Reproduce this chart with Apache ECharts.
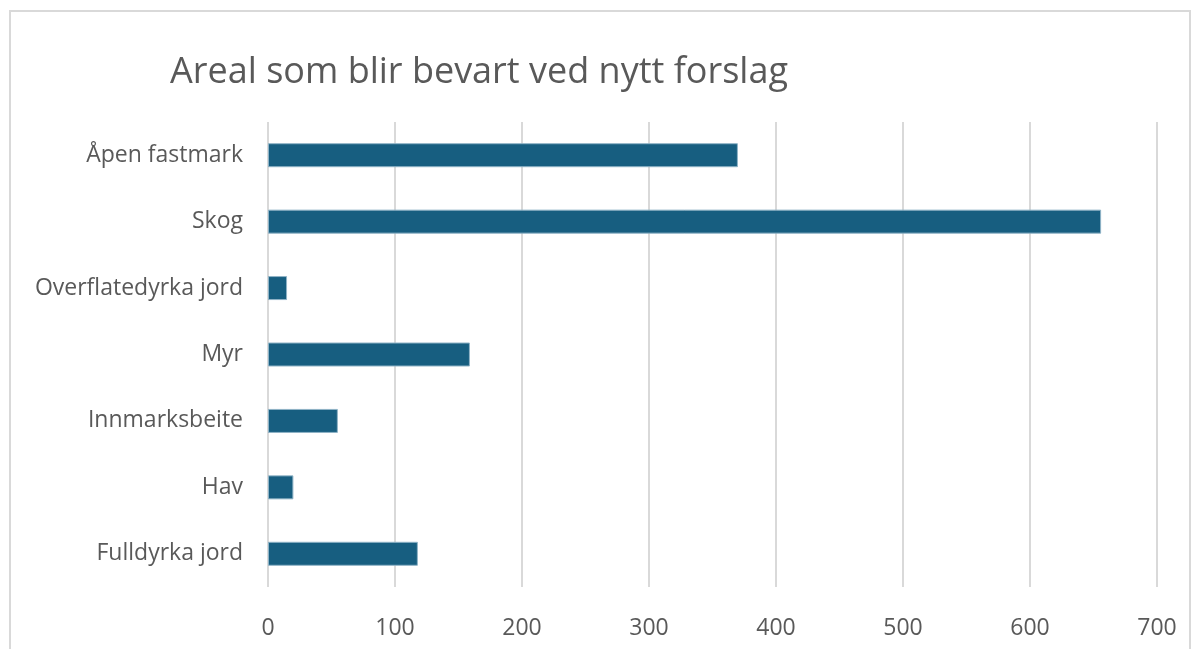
<!DOCTYPE html>
<html>
<head>
<meta charset="utf-8">
<script src="https://cdn.jsdelivr.net/npm/echarts@6/dist/echarts.min.js"></script>
<style>
  html, body { margin: 0; padding: 0; background: #fff; }
  #chart { width: 1198px; height: 649px; }
</style>
</head>
<body>
<div id="chart"></div>
<script>
// categories listed bottom to top (category axis is drawn bottom-up)
const categories = ['Fulldyrka jord', 'Hav', 'Innmarksbeite', 'Myr', 'Overflatedyrka jord', 'Skog', 'Åpen fastmark'];
const values = [118, 20, 55, 159, 15, 656, 370];
const xTicks = { min: 0, max: 700, interval: 100 };

const chart = echarts.init(document.getElementById('chart'));

const option = {
  backgroundColor: '#fff',
  animation: false,
  graphic: [{
    type: 'rect',
    shape: { x: 10, y: 11, width: 1180, height: 660 },
    style: { fill: 'none', stroke: '#d9d9d9', lineWidth: 2 },
    silent: true
  }],
  title: {
    text: 'Areal som blir bevart ved nytt forslag',
    left: 165,
    top: 50,
    textStyle: {
      color: '#595959',
      fontSize: 36,
      fontWeight: 'normal',
      fontFamily: 'Open Sans, sans-serif'
    }
  },
  grid: {
    left: 268,
    right: 41,
    top: 122,
    bottom: 62,
    containLabel: false
  },
  xAxis: {
    type: 'value',
    min: xTicks.min,
    max: xTicks.max,
    interval: xTicks.interval,
    axisLine: { show: false },
    axisTick: { show: false },
    axisLabel: {
      color: '#595959',
      fontSize: 23,
      margin: 30,
      fontFamily: 'Open Sans, sans-serif'
    },
    splitLine: { lineStyle: { color: '#d9d9d9', width: 2 } }
  },
  yAxis: {
    type: 'category',
    data: categories,
    axisLine: { show: false },
    axisTick: { show: false },
    axisLabel: {
      color: '#595959',
      fontSize: 23,
      margin: 25,
      padding: [4, 0, 0, 0],
      fontFamily: 'Open Sans, sans-serif'
    }
  },
  series: [{
    type: 'bar',
    data: values,
    barWidth: 24,
    itemStyle: {
      color: '#175e80',
      borderColor: '#8fb3c6',
      borderWidth: 1
    }
  }]
};

chart.setOption(option);
</script>
</body>
</html>
